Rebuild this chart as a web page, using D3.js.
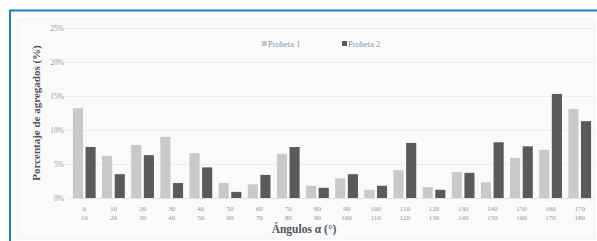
<!DOCTYPE html>
<html lang="es">
<head>
<meta charset="UTF-8">
<title>Porcentaje de agregados</title>
<script src="https://d3js.org/d3.v7.min.js"></script>
<style>
  body { margin: 0; background: #fff; }
  text { font-family: "Liberation Serif", "DejaVu Serif", serif; }
</style>
</head>
<body>
<div id="chart"></div>
<script>
// data
const lowLabels  = ["0","10","20","30","40","50","60","70","80","90","100","110","120","130","140","150","160","170"];
const highLabels = ["10","20","30","40","50","60","70","80","90","100","110","120","130","140","150","160","170","180"];
const probeta1 = [13.2, 6.2, 7.8, 9.0, 6.6, 2.2, 2.0, 6.5, 1.8, 2.9, 1.2, 4.1, 1.6, 3.8, 2.3, 5.9, 7.1, 13.1];
const probeta2 = [7.5, 3.5, 6.3, 2.2, 4.5, 0.9, 3.4, 7.5, 1.5, 3.5, 1.8, 8.1, 1.2, 3.7, 8.2, 7.6, 15.3, 11.3];
const yTicks = [0, 5, 10, 15, 20, 25];
const seriesNames = ["Probeta 1", "Probeta 2"];
const seriesColors = ["#c9c9c9", "#5a5a5a"];

const W = 597, H = 241;
const svg = d3.select("#chart").append("svg")
    .attr("width", W)
    .attr("height", H);

// outer frame: blue top and left rules
svg.append("rect").attr("x", 0).attr("y", 0).attr("width", W).attr("height", H).attr("fill", "#fff");
svg.append("line").attr("x1", 9).attr("x2", W).attr("y1", 10.5).attr("y2", 10.5)
    .attr("stroke", "#1a80c0").attr("stroke-width", 2);
svg.append("line").attr("x1", 10).attr("x2", 10).attr("y1", 10).attr("y2", H)
    .attr("stroke", "#1a80c0").attr("stroke-width", 2);

// chart area panel
svg.append("rect").attr("x", 17).attr("y", 19).attr("width", W - 19).attr("height", H - 21)
    .attr("fill", "#fafafa").attr("stroke", "#eef2f5");

const margin = { left: 70, right: 3, top: 28, bottom: 43 };
const plotW = W - margin.left - margin.right;
const plotH = H - margin.top - margin.bottom;
const g = svg.append("g").attr("transform", `translate(${margin.left},${margin.top})`);

const x = d3.scaleBand().domain(d3.range(lowLabels.length)).range([0, plotW]).paddingInner(0.22).paddingOuter(0.1);
const xs = d3.scaleBand().domain([0, 1]).range([0, x.bandwidth()]).paddingInner(0.2);
const y = d3.scaleLinear().domain([0, 25]).range([plotH, 0]);

// grid
g.selectAll(".grid").data(yTicks.slice(1)).join("line")
    .attr("x1", -6).attr("x2", plotW)
    .attr("y1", d => y(d) + 0.5).attr("y2", d => y(d) + 0.5)
    .attr("stroke", "#e6eef5").attr("stroke-width", 1);

// y axis
const yAxis = g.append("g").call(d3.axisLeft(y).tickValues(yTicks).tickFormat(d => d + "%").tickSize(0).tickPadding(6));
yAxis.select(".domain").remove();
yAxis.selectAll("text").attr("fill", "#9a9a9a").attr("font-size", 7.5)
    .attr("font-family", "Liberation Serif, serif");

// bars
const groups = g.selectAll(".cat").data(lowLabels.map((d, i) => i)).join("g")
    .attr("transform", i => `translate(${x(i)},0)`);
[probeta1, probeta2].forEach((vals, s) => {
  groups.append("rect")
      .attr("x", xs(s))
      .attr("width", xs.bandwidth())
      .attr("y", i => y(vals[i]))
      .attr("height", i => plotH - y(vals[i]))
      .attr("fill", seriesColors[s]);
});

// baseline
g.append("line").attr("x1", 0).attr("x2", plotW).attr("y1", plotH + 0.5).attr("y2", plotH + 0.5)
    .attr("stroke", "#e3e3e3");

// x tick labels, two lines
const xl = g.selectAll(".xl").data(lowLabels.map((d, i) => i)).join("text")
    .attr("x", i => x(i) + x.bandwidth() / 2)
    .attr("y", plotH + 13)
    .attr("text-anchor", "middle")
    .attr("fill", "#8c9aa6")
    .attr("font-size", 7);
xl.append("tspan").attr("x", i => x(i) + x.bandwidth() / 2).text(i => lowLabels[i]);
xl.append("tspan").attr("x", i => x(i) + x.bandwidth() / 2).attr("dy", 9).text(i => highLabels[i]);

// axis titles
svg.append("text")
    .attr("transform", `translate(40,${margin.top + plotH / 2}) rotate(-90)`)
    .attr("text-anchor", "middle")
    .attr("fill", "#555")
    .attr("font-weight", "bold")
    .attr("font-size", 11)
    .text("Porcentaje de agregados (%)");

svg.append("text")
    .attr("x", 304).attr("y", 233)
    .attr("text-anchor", "middle")
    .attr("fill", "#4d5560")
    .attr("font-weight", "bold")
    .attr("font-size", 11.5)
    .text("Ángulos α (°)");

// legend
const legendX = [262, 342];
seriesNames.forEach((name, s) => {
  const lg = svg.append("g").attr("transform", `translate(${legendX[s]},45)`);
  lg.append("rect").attr("x", 0).attr("y", -4).attr("width", 5).attr("height", 5).attr("fill", seriesColors[s]);
  lg.append("text").attr("x", 6).attr("y", 1.5).attr("fill", "#8a97a3").attr("font-size", 8.5).text(name);
});
</script>
</body>
</html>
